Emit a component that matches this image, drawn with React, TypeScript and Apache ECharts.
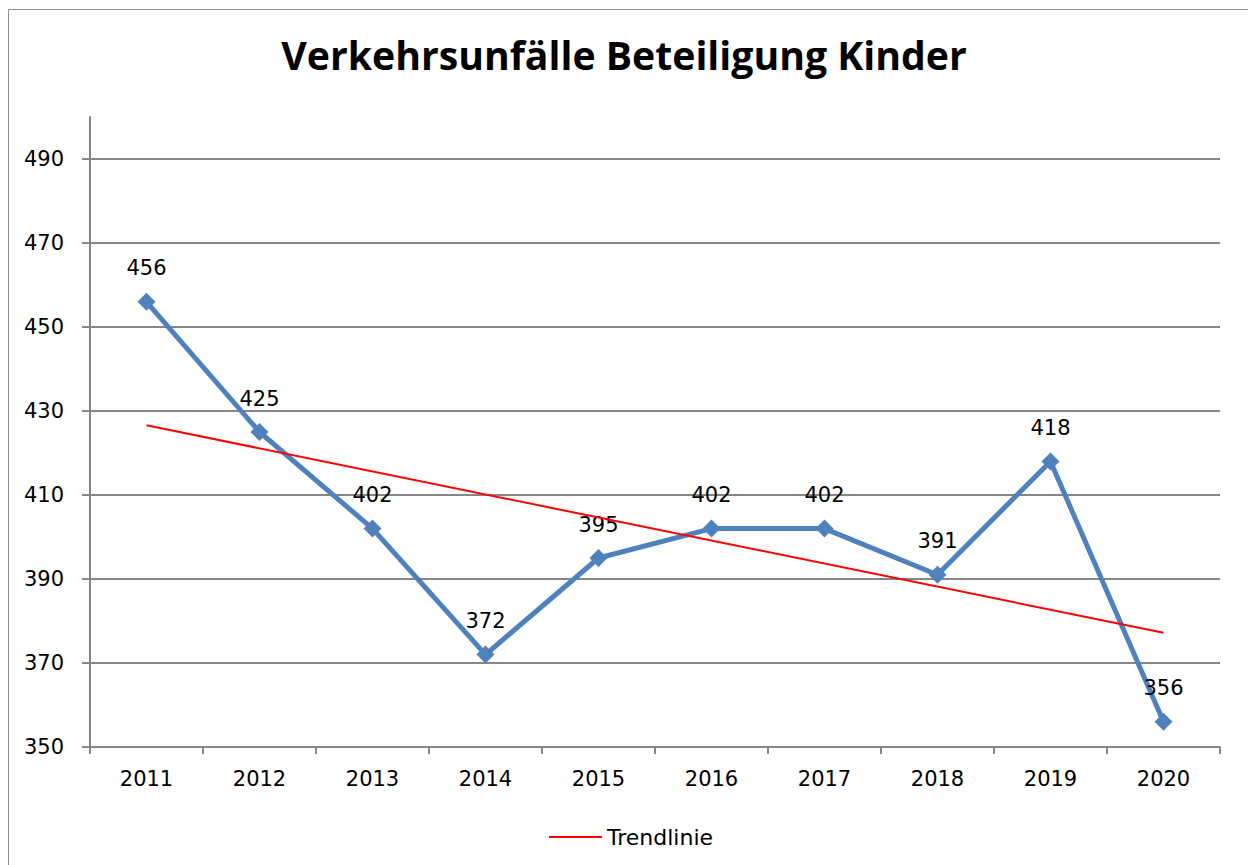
import React, { useEffect, useRef } from "react";
import * as echarts from "echarts";

const years = ["2011", "2012", "2013", "2014", "2015", "2016", "2017", "2018", "2019", "2020"];
const unfaelle = [456, 425, 402, 372, 395, 402, 402, 391, 418, 356];
// trend line end points (first and last year)
const trendEnds = [426.6, 377.2];
const yTicks = [350, 370, 390, 410, 430, 450, 470, 490];
const yMin = 350;
const yMax = 500;

const FONT = "DejaVu Sans";
const GREY = "#868686";

export default function App() {
  const ref = useRef<HTMLDivElement>(null);
  useEffect(() => {
    if (!ref.current) return;
    const chart = echarts.init(ref.current, null, { renderer: "svg" });
    const trend = years.map((_, i) =>
      i === 0 ? trendEnds[0] : i === years.length - 1 ? trendEnds[1] : null
    );
    chart.setOption({
      animation: false,
      backgroundColor: "#ffffff",
      textStyle: { fontFamily: FONT },
      title: {
        text: "Verkehrsunfälle Beteiligung Kinder",
        left: "center",
        top: 30,
        textStyle: { fontFamily: "Open Sans", fontWeight: "bold", fontSize: 39.2, color: "#000" },
      },
      graphic: [
        {
          type: "rect",
          shape: { x: 8.5, y: 9.5, width: 1300, height: 900 },
          style: { fill: "none", stroke: "#8c8c8c", lineWidth: 1 },
          silent: true,
        },
      ],
      legend: {
        data: [{ name: "Trendlinie", icon: "rect" }],
        left: 544,
        top: 821,
        itemWidth: 53,
        itemHeight: 2,
        itemGap: 5,
        textStyle: { fontFamily: FONT, fontSize: 22, color: "#000" },
      },
      grid: { left: 90, right: 28, top: 117, bottom: 118, containLabel: false },
      xAxis: {
        type: "category",
        data: years,
        boundaryGap: true,
        axisLine: { lineStyle: { color: GREY, width: 2 } },
        axisTick: { show: true, length: 7, lineStyle: { color: GREY, width: 2 } },
        axisLabel: { fontFamily: FONT, fontSize: 21, color: "#000", margin: 21 },
      },
      yAxis: {
        type: "value",
        min: yMin,
        max: yMax,
        axisLine: { show: true, lineStyle: { color: GREY, width: 2 } },
        axisTick: { show: true, length: 8, customValues: yTicks, lineStyle: { color: GREY, width: 2 } },
        axisLabel: { fontFamily: FONT, fontSize: 21, color: "#000", margin: 26, customValues: yTicks },
        splitLine: { show: true, lineStyle: { color: GREY, width: 2 } },
      },
      series: [
        {
          name: "Verkehrsunfälle",
          type: "line",
          data: unfaelle,
          symbol: "diamond",
          symbolSize: 18,
          lineStyle: { color: "#4f81bd", width: 5 },
          itemStyle: { color: "#4f81bd" },
          label: {
            show: true,
            position: "top",
            distance: 14,
            fontFamily: FONT,
            fontSize: 21,
            color: "#000",
          },
          z: 2,
        },
        {
          name: "Trendlinie",
          type: "line",
          data: trend,
          connectNulls: true,
          symbol: "none",
          lineStyle: { color: "#ff0000", width: 2 },
          itemStyle: { color: "#ff0000" },
          z: 3,
        },
      ],
    });
    return () => chart.dispose();
  }, []);
  return (
    <div
      ref={ref}
      style={{ position: "fixed", left: 0, top: 0, width: 1248, height: 865 }}
    />
  );
}
